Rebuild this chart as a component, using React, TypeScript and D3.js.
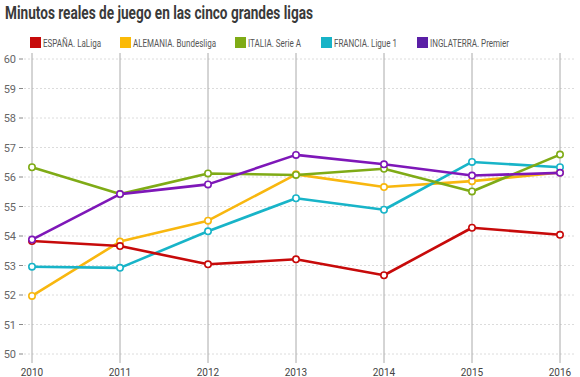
import React from "react";
import * as d3 from "d3";

const years = [2010, 2011, 2012, 2013, 2014, 2015, 2016];
const yTicks = [50, 51, 52, 53, 54, 55, 56, 57, 58, 59, 60];
const seriesNames = ["ESPAÑA. LaLiga", "ALEMANIA. Bundesliga", "ITALIA. Serie A", "FRANCIA. Ligue 1", "INGLATERRA. Premier"];
const espana = [53.83, 53.66, 53.04, 53.21, 52.67, 54.28, 54.04];
const alemania = [51.97, 53.81, 54.52, 56.09, 55.66, 55.86, 56.15];
const italia = [56.33, 55.42, 56.12, 56.07, 56.28, 55.51, 56.76];
const francia = [52.96, 52.92, 54.16, 55.28, 54.89, 56.51, 56.33];
const inglaterra = [53.88, 55.42, 55.75, 56.75, 56.43, 56.05, 56.14];
const colors = ["#c70a0a", "#f8b70f", "#7fab16", "#18b4c8", "#7e17b8"];
const legendColors = ["#c70a0a", "#fbba07", "#7fab16", "#17b3c7", "#5a1fa6"];

const allSeries = [espana, alemania, italia, francia, inglaterra];

export default function App() {
  const W = 580, H = 377;
  const x = d3.scaleLinear().domain([2010, 2016]).range([32, 560]);
  const y = d3.scaleLinear().domain([50, 60]).range([354, 59]);
  const line = d3.line<number>().x((_, i) => x(years[i])).y(d => y(d));
  const legendX = [30, 120, 235, 321, 417];
  const font = "Roboto, 'Noto Sans', sans-serif";
  // draw order: later on top
  const order = [1, 3, 0, 2, 4];
  return (
    <svg width={W} height={H} style={{ position: "absolute", left: 0, top: 0, background: "#fff" }}>
      <text x={5} y={19} fontFamily={font} fontWeight={700} fontSize={18} fill="#3a3a3a"
        textLength={308} lengthAdjust="spacingAndGlyphs">Minutos reales de juego en las cinco grandes ligas</text>
      {seriesNames.map((n, i) => (
        <g key={n}>
          <rect x={legendX[i]} y={37} width={11} height={11} fill={legendColors[i]} />
          <text x={legendX[i] + 13} y={47} fontFamily={font} fontSize={11} fill="#555"
            textLength={[58, 83, 53, 63, 79][i]} lengthAdjust="spacingAndGlyphs">{n}</text>
        </g>
      ))}
      {yTicks.map(t => (
        <g key={t}>
          <line x1={24} x2={576} y1={y(t)} y2={y(t)} stroke="#dcdcdc" strokeWidth={1} strokeDasharray="2,2" />
          <line x1={19} x2={23} y1={y(t)} y2={y(t)} stroke="#888" strokeWidth={1} />
          <text x={16} y={y(t) + 4} textAnchor="end" fontFamily={font} fontSize={11} fill="#666">{t}</text>
        </g>
      ))}
      {years.map(yr => (
        <g key={yr}>
          <line x1={x(yr)} x2={x(yr)} y1={53} y2={363} stroke="#aaa" strokeWidth={1} />
          <text x={x(yr)} y={376} textAnchor="middle" fontFamily={font} fontSize={10} fill="#444">{yr}</text>
        </g>
      ))}
      {order.map(si => (
        <g key={si}>
          <path d={line(allSeries[si]) || ""} fill="none" stroke={colors[si]} strokeWidth={2.6} strokeLinejoin="round" />
          {allSeries[si].map((v, i) => (
            <circle key={i} cx={x(years[i])} cy={y(v)} r={3.2} fill="#fff" stroke={colors[si]} strokeWidth={1.6} />
          ))}
        </g>
      ))}
    </svg>
  );
}
